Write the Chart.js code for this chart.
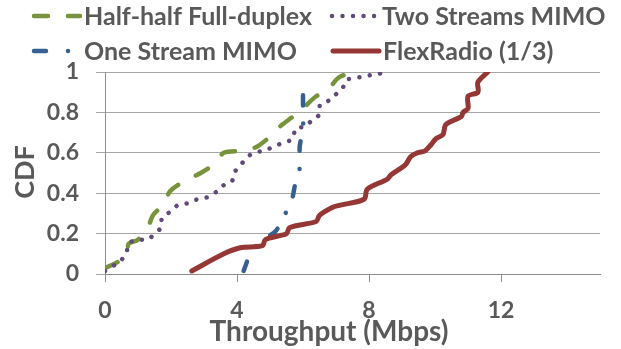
<!DOCTYPE html>
<html>
<head>
<meta charset="utf-8">
<script src="https://cdn.jsdelivr.net/npm/chart.js@4.4.1/dist/chart.umd.min.js"></script>
<style>
html, body { margin: 0; padding: 0; background: #fff; }
#wrap { width: 621px; height: 349px; }
</style>
</head>
<body>
<div id="wrap"><canvas id="cdf-chart" width="621" height="349"></canvas></div>
<script>
var seriesNames = ['Half-half Full-duplex', 'Two Streams MIMO', 'One Stream MIMO', 'FlexRadio (1/3)'];
var xTicks = [0, 4, 8, 12];
var yTicks = [0, 0.2, 0.4, 0.6, 0.8, 1];

var halfX = [0, 0.35, 0.66, 0.72, 1.0, 1.3, 1.45, 1.8, 1.97, 2.4, 2.9, 3.35, 3.6, 4.2, 4.6, 5.0, 5.3, 5.7, 6.0, 6.4, 6.7, 7.1, 7.7];
var halfY = [0.03, 0.056, 0.1, 0.15, 0.17, 0.23, 0.29, 0.35, 0.41, 0.46, 0.5, 0.55, 0.6, 0.61, 0.63, 0.68, 0.73, 0.78, 0.82, 0.88, 0.9, 0.975, 1.0];

var twoX = [0, 0.3, 0.5, 0.66, 0.7, 1.0, 1.3, 1.5, 1.7, 1.73, 2.0, 2.2, 2.5, 2.8, 3.1, 3.4, 3.6, 3.85, 3.9, 4.07, 4.26, 4.5, 4.83, 5.1, 5.4, 5.7, 5.77, 6.08, 6.26, 6.5, 6.52, 6.8, 7.0, 7.2, 7.3, 7.6, 7.9, 8.25, 8.6];
var twoY = [0.015, 0.045, 0.07, 0.11, 0.15, 0.17, 0.17, 0.2, 0.23, 0.28, 0.31, 0.34, 0.35, 0.37, 0.38, 0.41, 0.44, 0.46, 0.5, 0.53, 0.57, 0.6, 0.61, 0.63, 0.65, 0.67, 0.72, 0.73, 0.76, 0.79, 0.84, 0.86, 0.89, 0.92, 0.96, 0.97, 0.98, 0.99, 1.0];

var oneX = [4.2, 4.3, 4.35, 4.7, 5.16, 5.4, 5.65, 5.77, 5.9, 5.9, 6.0, 6.0, 6.0];
var oneY = [0.015, 0.06, 0.085, 0.16, 0.21, 0.28, 0.36, 0.45, 0.525, 0.63, 0.72, 0.81, 0.93];

var flexX = [2.63, 3.6, 4.1, 4.77, 4.86, 5.3, 5.5, 5.6, 6.4, 6.5, 6.9, 7.1, 7.85, 7.95, 8.56, 8.66, 9.1, 9.26, 9.47, 9.7, 9.88, 10.03, 10.24, 10.33, 10.8, 10.85, 11.0, 11.0, 11.3, 11.3, 11.6];
var flexY = [0.015, 0.10, 0.13, 0.14, 0.17, 0.19, 0.2, 0.23, 0.26, 0.29, 0.33, 0.34, 0.37, 0.42, 0.47, 0.49, 0.54, 0.58, 0.6, 0.61, 0.64, 0.67, 0.69, 0.74, 0.78, 0.8, 0.82, 0.88, 0.9, 0.95, 1.0];

var colors = ['#77933c', '#604a7b', '#376092', '#953735'];
var dashes = [[14, 20], [0.01, 10.5], [10, 18, 0.01, 18], []];
var textColor = '#595959';
var fontFamily = 'Lato, "Open Sans", sans-serif';

function zip(xs, ys) {
    return xs.map(function(x, i) { return {x: x, y: ys[i]}; });
}

function makeSet(i, xs, ys, order) {
    return {
        label: seriesNames[i],
        data: zip(xs, ys),
        showLine: true,
        borderColor: colors[i],
        backgroundColor: colors[i],
        borderWidth: i == 3 ? 5 : 4.5,
        borderDash: dashes[i],
        borderCapStyle: 'round',
        borderJoinStyle: 'round',
        pointRadius: 0,
        tension: 0.3,
        order: order
    };
}

// legend + axis titles, drawn by hand so the layout follows the picture
var legendSpots = [
    {x: 34, y: 16, ty: 25},
    {x: 332, y: 16, ty: 25},
    {x: 34, y: 51, ty: 60},
    {x: 333, y: 51, ty: 60}
];

var extras = {
    id: 'extras',
    afterDraw: function(chart) {
        var ctx = chart.ctx;
        ctx.save();
        ctx.fillStyle = textColor;
        ctx.font = 'bold 25px ' + fontFamily;
        for (var i = 0; i < 4; i++) {
            var s = legendSpots[i];
            ctx.save();
            ctx.strokeStyle = colors[i];
            ctx.lineWidth = i == 3 ? 5 : 4.5;
            ctx.lineCap = 'round';
            ctx.setLineDash(i == 2 ? [12, 22, 0.01, 22] : dashes[i]);
            ctx.beginPath();
            ctx.moveTo(s.x, s.y);
            ctx.lineTo(s.x + 46, s.y);
            ctx.stroke();
            ctx.restore();
            ctx.textAlign = 'left';
            ctx.textBaseline = 'alphabetic';
            ctx.fillText(seriesNames[i], s.x + 50, s.ty);
        }
        ctx.font = 'bold 28px ' + fontFamily;
        ctx.textAlign = 'center';
        ctx.fillText('Throughput (Mbps)', 329, 341);
        ctx.font = 'bold 27px ' + fontFamily;
        ctx.translate(34, 172);
        ctx.rotate(-Math.PI / 2);
        ctx.fillText('CDF', 0, 0);
        ctx.restore();
    }
};

var ctx = document.getElementById('cdf-chart');
var cdfChart = new Chart(ctx, {
    type: 'scatter',
    plugins: [extras],
    data: {
        datasets: [
            makeSet(0, halfX, halfY, 4),
            makeSet(1, twoX, twoY, 3),
            makeSet(2, oneX, oneY, 2),
            makeSet(3, flexX, flexY, 1)
        ]
    },
    options: {
        responsive: false,
        animation: false,
        devicePixelRatio: 1,
        layout: { padding: { top: 72, right: 21, left: 0, bottom: 0 } },
        plugins: {
            legend: { display: false },
            tooltip: { enabled: false }
        },
        scales: {
            x: {
                type: 'linear',
                min: 0,
                max: 15,
                afterBuildTicks: function(scale) {
                    scale.ticks = xTicks.map(function(v) { return {value: v}; });
                },
                afterFit: function(scale) { scale.height = 75; },
                grid: { drawOnChartArea: false, drawTicks: true, tickLength: 8, color: '#8c8c8c' },
                border: { color: '#8c8c8c' },
                ticks: {
                    color: textColor,
                    font: { family: fontFamily, size: 23, weight: 'bold' },
                    padding: 15,
                    maxRotation: 0,
                    callback: function(v) { return String(v); }
                }
            },
            y: {
                type: 'linear',
                min: 0,
                max: 1,
                afterBuildTicks: function(scale) {
                    scale.ticks = yTicks.map(function(v) { return {value: v}; });
                },
                afterFit: function(scale) { scale.width = 105; },
                grid: { color: '#a6a6a6', drawTicks: true, tickLength: 9 },
                border: { color: '#8c8c8c' },
                ticks: {
                    color: textColor,
                    font: { family: fontFamily, size: 23, weight: 'bold' },
                    padding: 17,
                    callback: function(v) { return String(v); }
                }
            }
        }
    }
});
</script>
</body>
</html>
